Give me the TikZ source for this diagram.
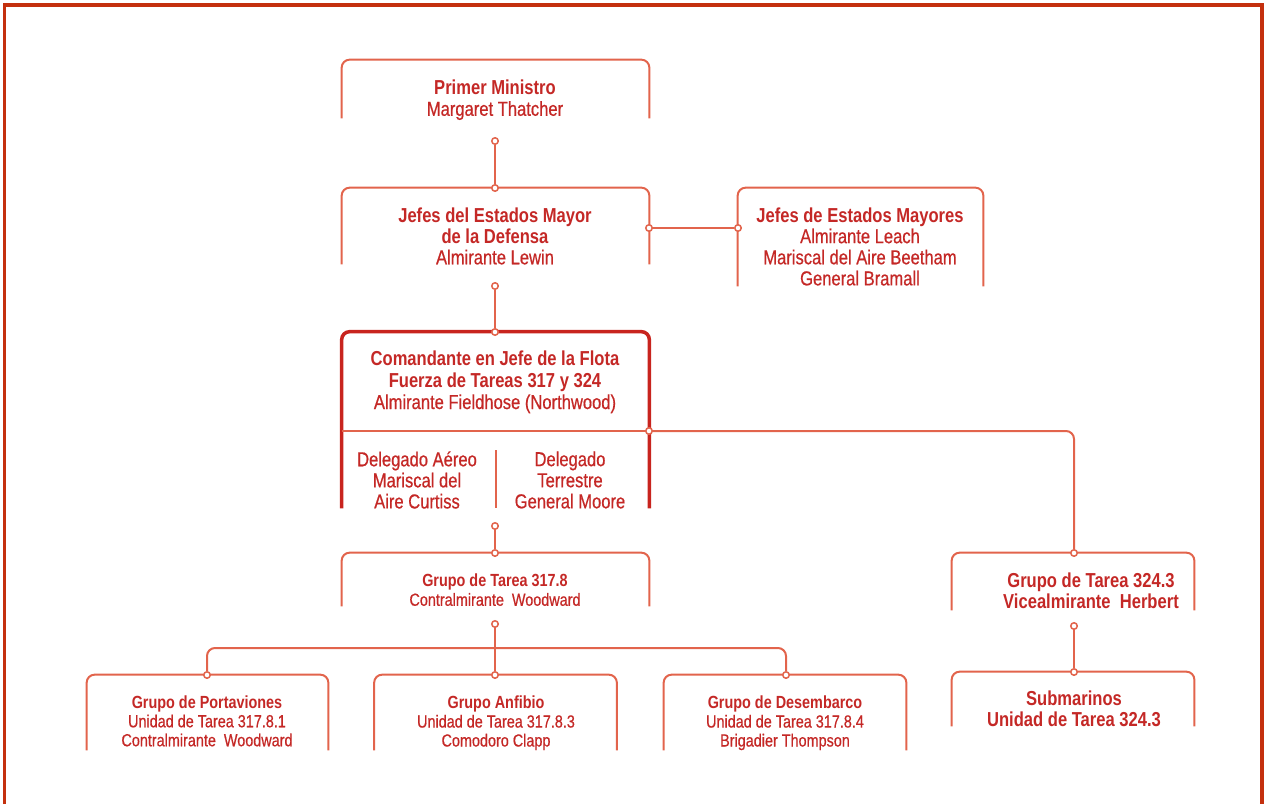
\documentclass[tikz,border=0pt]{standalone}
\usepackage{fontspec}
\setmainfont{Liberation Sans}[FakeStretch=0.82, UprightFeatures={FakeBold=0.6}]
\usetikzlibrary{positioning}
\usepackage{xcolor}

\definecolor{textred}{RGB}{196,40,38}
\definecolor{linered}{RGB}{226,100,76}
\definecolor{darkred}{RGB}{200,36,30}
\definecolor{framered}{RGB}{196,48,14}

\tikzset{
  boxline/.style={linered, line width=0.04cm, rounded corners=0.16cm},
  mainline/.style={darkred, line width=0.07cm, rounded corners=0.16cm},
  link/.style={linered, line width=0.04cm},
  dot/.style={circle, draw=linered, fill=white, line width=0.03cm, inner sep=0pt, minimum size=0.13cm},
  orgbox/.style 2 args={minimum width=#1*0.02cm, minimum height=#2*0.02cm, inner sep=0pt},
  lbl/.style={textred, align=center, inner sep=0pt, font=\fontsize{11.5}{12}\selectfont},
  small/.style={textred, align=center, inner sep=0pt, font=\fontsize{10}{10.8}\selectfont}
}
\newcommand{\openbox}[2][boxline]{\draw[#1] (#2.south west) |- (#2.north) -| (#2.south east);}

\begin{document}
\begin{tikzpicture}[x=0.02cm, y=-0.02cm]
	\useasboundingbox (0,0) rectangle (1266,804);
	\draw[framered, line width=0.08cm] (4.5,804) -- (4.5,5) -- (1262,5) -- (1262,804);

	% boxes
	\node (pm) [orgbox={307}{58}] at (495.5,89) {};
	\node (jem) [orgbox={307}{76}] at (495.5,226) {};
	\node (jee) [orgbox={245}{98}] at (860.5,237) {};
	\node (cjf) [orgbox={307}{176}] at (495.5,420) {};
	\node (gt317) [orgbox={307}{53}] at (495.5,579.5) {};
	\node (gt324) [orgbox={242}{57}] at (1073,581.5) {};
	\node (sub) [orgbox={242}{54}] at (1073,699) {};
	\node (gp) [orgbox={241}{75}] at (207.5,712.5) {};
	\node (ga) [orgbox={242}{75}] at (495.5,712.5) {};
	\node (gd) [orgbox={242}{75}] at (785,712.5) {};
	\openbox{pm}
	\openbox{jem}
	\openbox{jee}
	\openbox[mainline]{cjf}
	\openbox{gt317}
	\openbox{gt324}
	\openbox{sub}
	\openbox{gp}
	\openbox{ga}
	\openbox{gd}

	% texts
	\node (pmt) [lbl] at (495,100) {\textbf{Primer Ministro}\\Margaret Thatcher};
	\node (jemt) [lbl] at (495,236) {\textbf{Jefes del Estados Mayor}\\\textbf{de la Defensa}\\Almirante Lewin};
	\node (jeet) [lbl] at (860,246.5) {\textbf{Jefes de Estados Mayores}\\Almirante Leach\\Mariscal del Aire Beetham\\General Bramall};
	\node (cjft) [lbl, font=\fontsize{11.5}{12.4}\selectfont] at (495,382) {\textbf{Comandante en Jefe de la Flota}\\\textbf{Fuerza de Tareas 317 y 324}\\Almirante Fieldhose (Northwood)};
	\node (dat) [lbl] at (417,480) {Delegado Aéreo\\Mariscal del\\Aire Curtiss};
	\node (dtt) [lbl] at (570,480) {Delegado\\Terrestre\\General Moore};
	\node (gt317t) [small] at (495,590) {\textbf{Grupo de Tarea 317.8}\\Contralmirante\ \ Woodward};
	\node (gt324t) [lbl] at (1091,591) {\textbf{Grupo de Tarea 324.3}\\\textbf{Vicealmirante\ \ Herbert}};
	\node (subt) [lbl] at (1074,708.5) {\textbf{Submarinos}\\\textbf{Unidad de Tarea 324.3}};
	\node (gpt) [small] at (207,721) {\textbf{Grupo de Portaviones}\\Unidad de Tarea 317.8.1\\Contralmirante\ \ Woodward};
	\node (gat) [small] at (496,723) {\textbf{Grupo Anfibio}\\Unidad de Tarea 317.8.3\\Comodoro Clapp};
	\node (gdt) [small] at (785,723) {\textbf{Grupo de Desembarco}\\Unidad de Tarea 317.8.4\\Brigadier Thompson};

	% inner dividers of the fleet box
	\coordinate (split) at (649,431);
	\draw[link] (cjf.west |- split) -- (split);
	\draw[link, line width=0.03cm] (496,450) -- (496,508);

	% connectors
	\node (d1) [dot] at (495,141) {};
	\node (d2) [dot] at (495,188) {};
	\node (d3) [dot] at (649,228) {};
	\node (d4) [dot] at (738,228) {};
	\node (d5) [dot] at (495,286) {};
	\node (d6) [dot] at (495,332) {};
	\node (d7) [dot] at (649,431) {};
	\node (d8) [dot] at (1074,553) {};
	\node (d9) [dot] at (495,526) {};
	\node (d10) [dot] at (495,553) {};
	\node (d11) [dot] at (495,624) {};
	\node (d12) [dot] at (207,675) {};
	\node (d13) [dot] at (495,675) {};
	\node (d14) [dot] at (786,675) {};
	\node (d15) [dot] at (1074,626) {};
	\node (d16) [dot] at (1074,672) {};
	\coordinate (bus) at (495,648);
	\draw[link] (d1) -- (d2);
	\draw[link] (d3) -- (d4);
	\draw[link] (d5) -- (d6);
	\draw[link, rounded corners=0.16cm] (d7) -| (d8);
	\draw[link] (d9) -- (d10);
	\draw[link] (d11) -- (bus) -- (d13);
	\draw[link, rounded corners=0.16cm] (d12) |- (bus) -| (d14);
	\draw[link] (d15) -- (d16);
\end{tikzpicture}
\end{document}
